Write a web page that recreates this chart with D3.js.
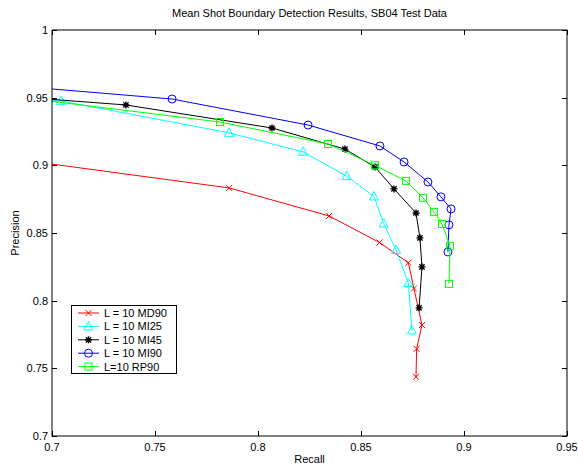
<!DOCTYPE html>
<html><head><meta charset="utf-8">
<script src="https://cdn.jsdelivr.net/npm/d3@7"></script>
<style>body{margin:0;background:#fff}svg{display:block}text{font-family:"Liberation Sans",Arial,sans-serif;fill:#000}</style>
</head><body><svg id="c" width="578" height="466"></svg>
<script>
const xTicks = [0.7, 0.75, 0.8, 0.85, 0.9, 0.95];
const yTicks = [0.7, 0.75, 0.8, 0.85, 0.9, 0.95, 1];
const seriesNames = ["L = 10 MD90", "L = 10 MI25", "L = 10 MI45", "L = 10 MI90", "L=10 RP90"];
const seriesColors = ["#ff0000", "#00ffff", "#000000", "#0000ff", "#00ff00"];
const seriesMarkers = ["x", "triangle", "star", "circle", "square"];
const recallMD90 = [0.68, 0.786, 0.8345, 0.859, 0.873, 0.8757, 0.8796, 0.877, 0.8767];
const precisionMD90 = [0.905, 0.8833, 0.8626, 0.843, 0.828, 0.809, 0.782, 0.7644, 0.7437];
const recallMI25 = [0.68, 0.7044, 0.786, 0.8218, 0.843, 0.8563, 0.861, 0.867, 0.873, 0.8747];
const precisionMI25 = [0.950, 0.9476, 0.924, 0.910, 0.892, 0.877, 0.857, 0.8375, 0.813, 0.778];
const recallMI45 = [0.68, 0.7359, 0.8068, 0.8422, 0.8568, 0.866, 0.8767, 0.8786, 0.8796, 0.8782];
const precisionMI45 = [0.951, 0.9446, 0.9276, 0.912, 0.8988, 0.8826, 0.8648, 0.8464, 0.825, 0.7947];
const recallMI90 = [0.68, 0.7583, 0.8243, 0.8592, 0.8709, 0.8825, 0.8888, 0.8937, 0.8927, 0.8922];
const precisionMI90 = [0.959, 0.949, 0.9298, 0.9143, 0.9025, 0.8877, 0.8767, 0.8678, 0.856, 0.836];
const recallRP90 = [0.68, 0.7816, 0.834, 0.8568, 0.8718, 0.8801, 0.8854, 0.8893, 0.8932, 0.8927];
const precisionRP90 = [0.951, 0.932, 0.9158, 0.900, 0.8885, 0.876, 0.8656, 0.8567, 0.8405, 0.8124];
const recalls = [recallMD90, recallMI25, recallMI45, recallMI90, recallRP90];
const precisions = [precisionMD90, precisionMI25, precisionMI45, precisionMI90, precisionRP90];

const svg = d3.select("#c");
const L = 52, R = 567, T = 30, B = 436;
const x = d3.scaleLinear().domain([0.7, 0.95]).range([L, R]);
const y = d3.scaleLinear().domain([0.7, 1]).range([B, T]);

svg.append("defs").append("clipPath").attr("id", "clip")
  .append("rect").attr("x", L).attr("y", T).attr("width", R - L).attr("height", B - T);

function marker(g, type, color, cx, cy) {
  if (type === "x") {
    g.append("path").attr("d", `M${cx-3},${cy-3}L${cx+3},${cy+3}M${cx-3},${cy+3}L${cx+3},${cy-3}`).attr("stroke", color).attr("fill", "none");
  } else if (type === "triangle") {
    g.append("path").attr("d", `M${cx},${cy-5}L${cx+4.5},${cy+3.5}L${cx-4.5},${cy+3.5}Z`).attr("stroke", color).attr("fill", "none");
  } else if (type === "star") {
    g.append("path").attr("d", `M${cx-3.5},${cy}L${cx+3.5},${cy}M${cx},${cy-3.5}L${cx},${cy+3.5}M${cx-2.6},${cy-2.6}L${cx+2.6},${cy+2.6}M${cx-2.6},${cy+2.6}L${cx+2.6},${cy-2.6}`).attr("stroke", color).attr("stroke-width", 1.4).attr("fill", "none");
  } else if (type === "circle") {
    g.append("circle").attr("cx", cx).attr("cy", cy).attr("r", 4).attr("stroke", color).attr("fill", "none");
  } else if (type === "square") {
    g.append("rect").attr("x", cx - 3.5).attr("y", cy - 3.5).attr("width", 7).attr("height", 7).attr("stroke", color).attr("fill", "none");
  }
}

const plot = svg.append("g").attr("clip-path", "url(#clip)");
const line = d3.line().x(d => x(d[0])).y(d => y(d[1]));
recalls.forEach((rs, i) => {
  const pts = rs.map((r, j) => [r, precisions[i][j]]);
  plot.append("path").datum(pts).attr("d", line).attr("fill", "none").attr("stroke", seriesColors[i]).attr("stroke-width", 1);
  pts.forEach(p => marker(plot, seriesMarkers[i], seriesColors[i], x(p[0]), y(p[1])));
});

// frame
svg.append("rect").attr("x", L).attr("y", T).attr("width", R - L).attr("height", B - T)
  .attr("fill", "none").attr("stroke", "#000").attr("stroke-width", 1);

const tl = 5;
xTicks.forEach(t => {
  const px = Math.round(x(t)) + 0.5;
  svg.append("line").attr("x1", px).attr("x2", px).attr("y1", B).attr("y2", B - tl).attr("stroke", "#000");
  svg.append("line").attr("x1", px).attr("x2", px).attr("y1", T).attr("y2", T + tl).attr("stroke", "#000");
  svg.append("text").attr("x", x(t)).attr("y", B + 15).attr("text-anchor", "middle").attr("font-size", 11).text(d3.format("")(t));
});
yTicks.forEach(t => {
  const py = Math.round(y(t)) + 0.5;
  svg.append("line").attr("x1", L).attr("x2", L + tl).attr("y1", py).attr("y2", py).attr("stroke", "#000");
  svg.append("line").attr("x1", R).attr("x2", R - tl).attr("y1", py).attr("y2", py).attr("stroke", "#000");
  svg.append("text").attr("x", L - 4).attr("y", y(t) + 4).attr("text-anchor", "end").attr("font-size", 11).text(d3.format("")(t));
});

svg.append("text").attr("x", (L + R) / 2).attr("y", 17).attr("text-anchor", "middle").attr("font-size", 11)
  .text("Mean Shot Boundary Detection Results, SB04 Test Data");
svg.append("text").attr("x", (L + R) / 2).attr("y", 463).attr("text-anchor", "middle").attr("font-size", 11).text("Recall");
svg.append("text").attr("transform", `translate(19,${(T + B) / 2}) rotate(-90)`).attr("text-anchor", "middle").attr("font-size", 11).text("Precision");

// legend
const lg = svg.append("g");
lg.append("rect").attr("x", 71.5).attr("y", 305.5).attr("width", 105).attr("height", 68).attr("fill", "#fff").attr("stroke", "#000");
seriesNames.forEach((n, i) => {
  const ly = 313 + i * 13.4;
  lg.append("line").attr("x1", 78).attr("x2", 99).attr("y1", ly).attr("y2", ly).attr("stroke", seriesColors[i]);
  marker(lg, seriesMarkers[i], seriesColors[i], 88.5, ly);
  lg.append("text").attr("x", 104).attr("y", ly + 4).attr("font-size", 11).text(n);
});
</script></body></html>
